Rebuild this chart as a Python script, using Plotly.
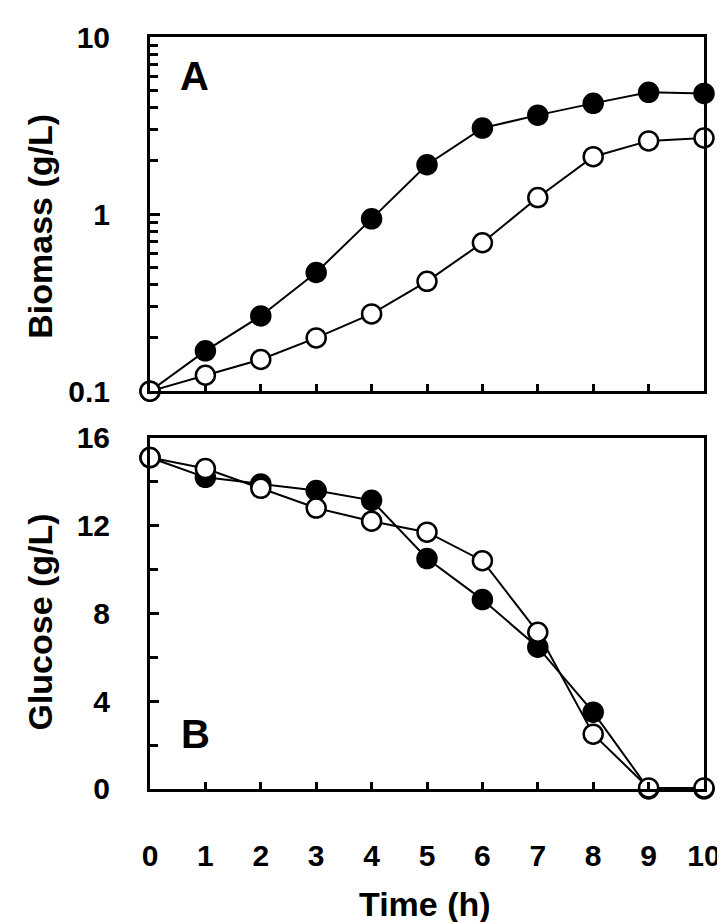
import plotly.graph_objects as go

time_h = [0, 1, 2, 3, 4, 5, 6, 7, 8, 9, 10]

# Panel A: biomass (g/L), log scale
biomass_filled = [0.10, 0.169, 0.266, 0.468, 0.94, 1.90, 3.06, 3.62, 4.22, 4.87, 4.80]
biomass_open = [0.10, 0.123, 0.151, 0.200, 0.273, 0.417, 0.689, 1.24, 2.11, 2.59, 2.69]

# Panel B: glucose (g/L)
glucose_filled = [15.1, 14.2, 13.9, 13.6, 13.15, 10.5, 8.63, 6.46, 3.5, 0.0, 0.0]
glucose_open = [15.1, 14.6, 13.7, 12.8, 12.2, 11.7, 10.4, 7.14, 2.5, 0.05, 0.05]

x_ticks = [0, 1, 2, 3, 4, 5, 6, 7, 8, 9, 10]
y1_ticks = [0.1, 1, 10]
y1_ticklabels = ["0.1", "1", "10"]
y2_ticks = [0, 4, 8, 12, 16]

FONT = "Liberation Sans, Arial, sans-serif"
BLACK = "#000000"

fig = go.Figure()

def add_series(x, y, xa, ya, filled):
    fig.add_trace(go.Scatter(
        x=x, y=y, xaxis=xa, yaxis=ya, mode="lines+markers",
        line=dict(color=BLACK, width=2),
        marker=dict(symbol="circle", size=19,
                    color=BLACK if filled else "white",
                    line=dict(color=BLACK, width=2.5)),
        cliponaxis=False, showlegend=False,
    ))

add_series(time_h, biomass_filled, "x", "y", True)
add_series(time_h, biomass_open, "x", "y", False)
add_series(time_h, glucose_filled, "x2", "y2", True)
add_series(time_h, glucose_open, "x2", "y2", False)

tickfont = dict(family=FONT, size=30, color=BLACK, weight="bold")
axis_common = dict(showline=True, linewidth=3, linecolor=BLACK, mirror=True,
                   ticks="inside", tickcolor=BLACK, tickwidth=2.5,
                   showgrid=False, zeroline=False, tickfont=tickfont)

fig.update_layout(
    width=725, height=922,
    margin=dict(l=142, r=20, t=21, b=141),
    plot_bgcolor="white", paper_bgcolor="white",
    xaxis=dict(domain=[0, 1], anchor="y", range=[0, 10], tickvals=x_ticks,
               showticklabels=False, ticklen=7, **axis_common),
    yaxis=dict(domain=[0.529, 1], anchor="x", type="log", range=[-1, 1],
               tickvals=y1_ticks, ticktext=y1_ticklabels, ticklen=10,
               ticklabelstandoff=31,
               minor=dict(ticks="inside", ticklen=8, tickwidth=2.5, tickcolor=BLACK,
                          tickvals=[0.2, 0.3, 0.4, 0.5, 0.6, 0.7, 0.8, 0.9,
                                    2, 3, 4, 5, 6, 7, 8, 9]),
               **axis_common),
    xaxis2=dict(domain=[0, 1], anchor="y2", range=[0, 10], tickvals=x_ticks,
                ticklen=7, ticklabelstandoff=38, **axis_common),
    yaxis2=dict(domain=[0, 0.467], anchor="x2", range=[0, 16], tickvals=y2_ticks,
                ticklen=9, ticklabelstandoff=31,
                minor=dict(ticks="inside", ticklen=8, tickwidth=2.5, tickcolor=BLACK, dtick=2),
                **axis_common),
)

titlefont = dict(family=FONT, size=34, color=BLACK, weight="bold")
fig.add_annotation(text="Biomass (g/L)", xref="paper", yref="paper",
                   x=(30 - 142) / 563, y=(781 - 212) / 760, textangle=-90,
                   showarrow=False, font=titlefont, xanchor="center", yanchor="middle")
fig.add_annotation(text="Glucose (g/L)", xref="paper", yref="paper",
                   x=(30 - 142) / 563, y=(781 - 612) / 760, textangle=-90,
                   showarrow=False, font=titlefont, xanchor="center", yanchor="middle")
fig.add_annotation(text="Time (h)", xref="paper", yref="paper",
                   x=(421 - 142) / 563, y=(781 - 897) / 760,
                   showarrow=False, font=titlefont, xanchor="center", yanchor="middle")
panelfont = dict(family=FONT, size=40, color=BLACK, weight="bold")
fig.add_annotation(text="A", xref="paper", yref="paper",
                   x=(187 - 142) / 563, y=(781 - 60) / 760,
                   showarrow=False, font=panelfont, xanchor="center", yanchor="middle")
fig.add_annotation(text="B", xref="paper", yref="paper",
                   x=(188 - 142) / 563, y=(781 - 725) / 760,
                   showarrow=False, font=panelfont, xanchor="center", yanchor="middle")

fig.write_html("out.html")
